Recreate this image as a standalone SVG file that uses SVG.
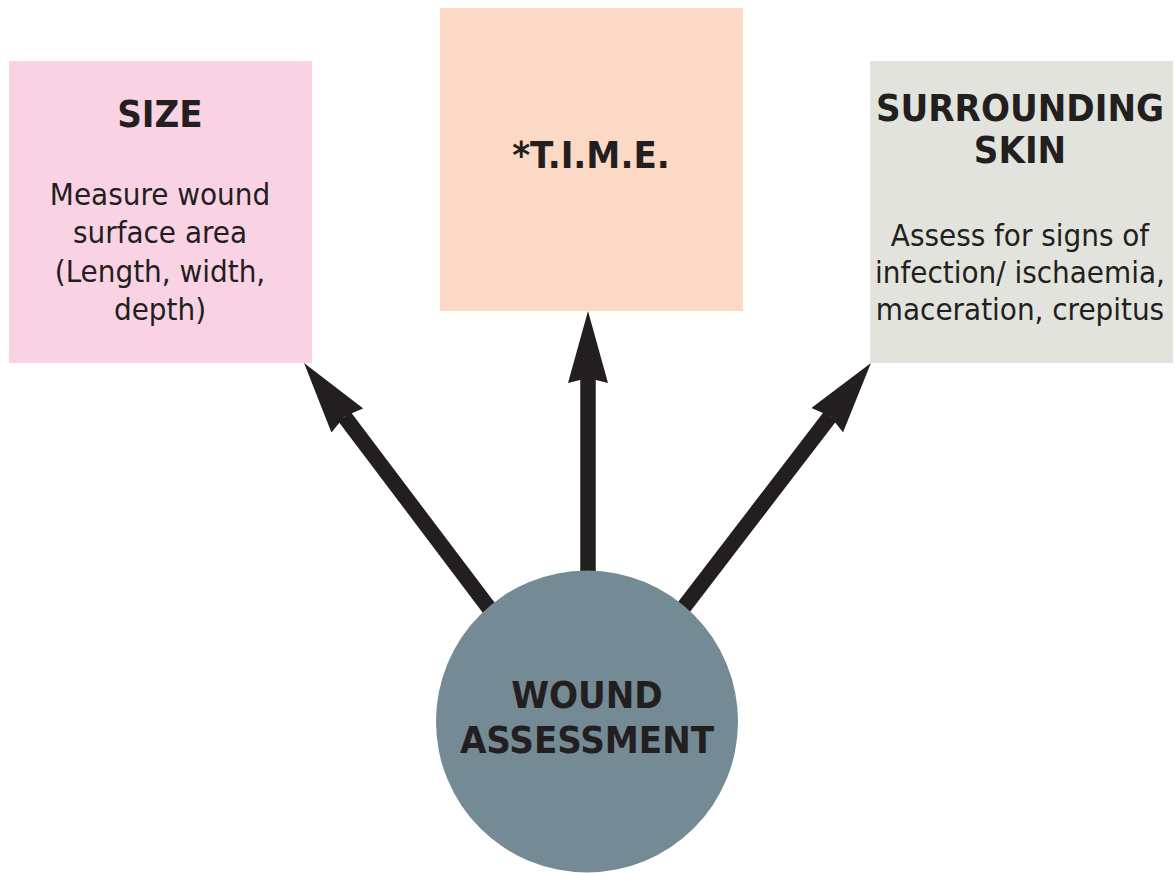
<svg xmlns="http://www.w3.org/2000/svg" width="1175" height="873" viewBox="0 0 1175 873">
<style>
.h{font-family:"DejaVu Sans Condensed","DejaVu Sans","Liberation Sans",sans-serif;font-stretch:condensed;font-weight:bold;font-size:38px;fill:#231F20;text-anchor:middle}
.b{font-family:"DejaVu Sans Condensed","DejaVu Sans","Liberation Sans",sans-serif;font-stretch:condensed;font-size:31px;fill:#231F20;text-anchor:middle}
.arrow{stroke:#231F20;stroke-width:15.5;fill:none;marker-end:url(#ah)}
</style>
<defs>
<marker id="ah" viewBox="0 0 72 40" refX="5" refY="20" markerWidth="72" markerHeight="40" markerUnits="userSpaceOnUse" orient="auto">
<path d="M0,0 L72,20 L0,40 L5,20 Z" fill="#231F20"/>
</marker>
</defs>
<rect width="1175" height="873" fill="#ffffff"/>
<g id="connectors">
<line class="arrow" x1="498" y1="620" x2="344.4" y2="416.5"/>
<line class="arrow" x1="588" y1="600" x2="588" y2="378"/>
<line class="arrow" x1="674" y1="620" x2="830.2" y2="416.2"/>
</g>
<g id="size">
<rect x="9" y="61" width="303" height="302" fill="#F9D3E3"/>
<text class="h" x="160" y="127">SIZE</text>
<text class="b" x="160" y="205">Measure wound</text>
<text class="b" x="160" y="243">surface area</text>
<text class="b" x="160" y="282">(Length, width,</text>
<text class="b" x="160" y="320">depth)</text>
</g>
<g id="time">
<rect x="440" y="8" width="303" height="303" fill="#FBD9C4"/>
<text class="h" x="591" y="168">*T.I.M.E.</text>
</g>
<g id="skin">
<rect x="870" y="61" width="303" height="302" fill="#E1E3DC"/>
<text class="h" x="1020" y="121">SURROUNDING</text>
<text class="h" x="1020" y="163">SKIN</text>
<text class="b" x="1020" y="246">Assess for signs of</text>
<text class="b" x="1020" y="283">infection/ ischaemia,</text>
<text class="b" x="1020" y="320">maceration, crepitus</text>
</g>
<g id="wound">
<circle cx="587" cy="721.5" r="151" fill="#748A95"/>
<text class="h" x="587" y="708">WOUND</text>
<text class="h" x="587" y="753">ASSESSMENT</text>
</g>
</svg>
